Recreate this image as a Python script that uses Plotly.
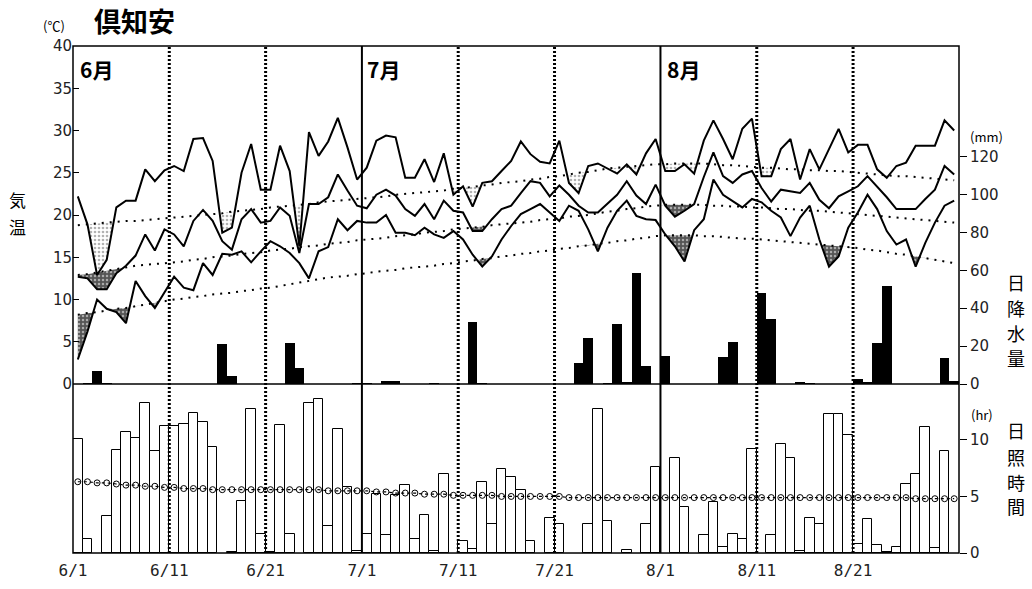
import plotly.graph_objects as go

# ---------------- data (6/1 .. 8/31, 92 days) ----------------
tick_pos = [0, 10, 20, 30, 40, 50, 61, 71, 81]
tick_labels = ["6/1", "6/11", "6/21", "7/1", "7/11", "7/21", "8/1", "8/11", "8/21"]
month_labels = ["6月", "7月", "8月"]

tmax = [22.2, 18.9, 12.9, 14.7, 20.9, 21.7, 21.7, 25.4, 24.0, 25.3,
        25.8, 25.2, 29.0, 29.1, 26.4, 17.9, 18.5, 25.0, 28.4, 23.0,
        23.0, 28.2, 25.2, 16.3, 29.8, 27.0, 28.7, 31.5, 28.0, 24.2,
        25.6, 28.8, 29.4, 29.2, 24.4, 24.4, 26.6, 23.9, 27.3, 22.4,
        23.4, 21.0, 23.8, 24.0, 25.2, 26.4, 28.7, 27.2, 26.3, 26.1,
        28.8, 23.8, 22.6, 25.8, 26.1, 25.5, 24.9, 26.0, 24.8, 27.3,
        29.0, 25.2, 25.2, 26.0, 24.9, 28.8, 31.2, 29.0, 26.6, 30.2,
        31.4, 24.6, 24.6, 27.8, 29.0, 24.2, 27.8, 25.4, 27.8, 30.2,
        27.4, 28.3, 28.3, 25.4, 24.4, 25.8, 26.2, 28.2, 28.2, 28.2,
        31.2, 30.0]
tmean = [12.7, 12.5, 11.2, 11.2, 13.1, 14.0, 15.2, 17.7, 15.8, 18.3,
         17.7, 16.3, 19.3, 20.6, 19.3, 16.9, 15.9, 19.5, 20.7, 19.1,
         19.3, 20.9, 19.9, 15.5, 21.3, 21.3, 22.1, 24.8, 22.9, 21.1,
         20.8, 22.4, 23.0, 22.3, 20.7, 19.9, 21.3, 19.5, 21.7, 20.5,
         20.3, 18.1, 18.1, 19.5, 20.7, 21.1, 22.6, 24.0, 23.8, 22.2,
         23.5, 22.4, 21.1, 20.3, 20.3, 21.3, 22.4, 24.0, 22.3, 21.3,
         23.6, 21.1, 19.8, 20.5, 21.3, 24.5, 27.4, 24.6, 23.8, 24.8,
         25.2, 23.2, 21.6, 23.0, 22.8, 22.6, 23.8, 21.8, 20.8, 22.2,
         22.8, 23.4, 24.6, 23.4, 22.1, 20.7, 20.7, 20.7, 21.9, 23.0,
         25.8, 24.8]
tmin = [2.9, 6.2, 10.0, 8.9, 8.5, 7.2, 12.2, 10.4, 9.0, 10.9,
        12.7, 11.4, 11.1, 14.3, 12.9, 15.4, 15.3, 15.7, 14.4, 15.7,
        16.9, 16.3, 15.5, 14.3, 12.5, 15.7, 16.2, 19.5, 18.2, 19.3,
        19.1, 19.1, 20.0, 17.9, 17.9, 17.6, 18.5, 17.7, 17.3, 18.1,
        17.1, 15.3, 13.9, 15.1, 17.1, 18.7, 20.1, 20.7, 21.3, 20.3,
        19.3, 21.1, 20.5, 18.3, 15.7, 18.5, 20.5, 21.7, 19.9, 19.5,
        19.4, 17.7, 16.3, 14.5, 18.2, 19.5, 24.2, 22.4, 21.7, 20.9,
        21.9, 21.5, 20.5, 19.7, 17.5, 19.7, 21.1, 17.1, 13.9, 15.1,
        18.5, 20.3, 22.4, 20.7, 18.1, 16.5, 17.1, 13.9, 16.7, 19.1,
        21.1, 21.7]
nmax = [18.8, 18.9, 19.0, 19.1, 19.2, 19.3, 19.3, 19.4, 19.5, 19.6, 19.7,
        19.8, 19.9, 20.0, 20.1, 20.2, 20.4, 20.5, 20.6, 20.7, 20.9,
        21.0, 21.1, 21.2, 21.3, 21.5, 21.6, 21.7, 21.8, 21.9, 22.0,
        22.1, 22.2, 22.4, 22.5, 22.6, 22.7, 22.8, 22.9, 23.1, 23.2,
        23.3, 23.5, 23.6, 23.8, 23.9, 24.0, 24.2, 24.3, 24.5, 24.6,
        24.8, 25.0, 25.1, 25.3, 25.5, 25.6, 25.7, 25.8, 25.9, 26.0,
        26.0, 26.1, 26.1, 26.1, 26.1, 26.0, 25.9, 25.9, 25.8, 25.7,
        25.6, 25.6, 25.5, 25.4, 25.4, 25.3, 25.3, 25.2, 25.2, 25.1,
        25.0, 24.9, 24.8, 24.7, 24.6, 24.6, 24.5, 24.4, 24.3, 24.2, 24.1]
nmean = [12.9, 13.0, 13.2, 13.4, 13.6, 13.8, 14.0, 14.1, 14.2, 14.3, 14.4,
         14.5, 14.7, 14.8, 15.0, 15.1, 15.2, 15.4, 15.5, 15.6, 15.8,
         15.9, 16.0, 16.2, 16.3, 16.4, 16.6, 16.7, 16.8, 17.0, 17.1,
         17.2, 17.3, 17.5, 17.6, 17.7, 17.9, 18.0, 18.1, 18.3, 18.4,
         18.5, 18.6, 18.8, 18.9, 19.0, 19.1, 19.2, 19.4, 19.5, 19.6,
         19.8, 19.9, 20.0, 20.2, 20.4, 20.5, 20.7, 20.8, 21.0, 21.1,
         21.2, 21.2, 21.2, 21.2, 21.2, 21.1, 21.1, 21.0, 21.0, 20.9,
         20.9, 20.8, 20.7, 20.7, 20.6, 20.5, 20.5, 20.4, 20.3, 20.2,
         20.1, 20.0, 19.9, 19.8, 19.7, 19.6, 19.5, 19.4, 19.3, 19.2, 19.1]
nmin = [8.2, 8.4, 8.5, 8.7, 8.9, 9.0, 9.2, 9.4, 9.6, 9.8, 10.0,
        10.1, 10.3, 10.4, 10.6, 10.7, 10.8, 11.0, 11.1, 11.3, 11.4,
        11.6, 11.8, 12.0, 12.2, 12.4, 12.6, 12.7, 12.8, 13.0, 13.1,
        13.3, 13.4, 13.5, 13.7, 13.8, 13.9, 14.0, 14.2, 14.3, 14.5,
        14.6, 14.8, 14.9, 15.1, 15.2, 15.4, 15.5, 15.7, 15.8, 16.0,
        16.1, 16.3, 16.4, 16.6, 16.7, 16.9, 17.0, 17.2, 17.3, 17.5,
        17.6, 17.6, 17.6, 17.6, 17.5, 17.5, 17.4, 17.3, 17.2, 17.2,
        17.1, 17.0, 16.9, 16.8, 16.7, 16.6, 16.5, 16.4, 16.3, 16.2,
        16.1, 15.9, 15.8, 15.6, 15.4, 15.3, 15.1, 14.9, 14.7, 14.5, 14.3]
precip = [0, 0.5, 7.0, 0.5, 0, 0, 0, 0, 0, 0,
          0, 0, 0, 0, 0, 20.9, 4.2, 0, 0, 0,
          0, 0, 21.5, 8.3, 0, 0, 0, 0, 0, 0.5,
          0.5, 0, 1.5, 1.5, 0, 0, 0, 0.5, 0, 0,
          0, 32.9, 0.3, 0, 0, 0, 0, 0, 0, 0,
          0, 0, 10.9, 24.5, 0, 0.3, 31.7, 1.0, 58.4, 9.7,
          0, 15.0, 0, 0, 0, 0, 0, 14.4, 22.3, 0,
          0, 48.2, 34.3, 0, 0, 1.0, 0.3, 0, 0, 0,
          0, 2.5, 1.2, 21.8, 51.7, 0, 0, 0, 0, 0,
          13.9, 1.8]
sun = [10.1, 1.2, 0, 3.3, 9.1, 10.7, 10.2, 13.3, 9.0, 11.2,
       11.2, 11.4, 12.4, 11.6, 9.4, 0, 0.1, 4.6, 12.7, 1.7,
       0.1, 11.3, 1.7, 0, 13.3, 13.6, 2.4, 11.0, 5.8, 0.2,
       1.7, 5.2, 1.6, 5.1, 6.0, 1.2, 3.4, 0.2, 7.0, 0,
       1.1, 0.35, 6.3, 2.6, 7.4, 6.7, 5.6, 1.1, 0, 3.1,
       2.6, 0, 0, 2.6, 12.7, 2.8, 0, 0.3, 0, 2.6,
       7.6, 0, 8.4, 4.1, 0, 1.6, 4.5, 0.5, 1.7, 1.2,
       9.2, 0, 1.6, 9.6, 8.4, 0.2, 3.1, 2.6, 12.3, 12.3,
       10.4, 0.8, 3.0, 0.7, 0.1, 0.5, 6.1, 7.0, 11.1, 0.4,
       9.0, 0]
nsun = [6.3, 6.3, 6.2, 6.2, 6.1, 6.0, 6.0, 5.9, 5.9, 5.8, 5.8,
        5.7, 5.7, 5.7, 5.6, 5.6, 5.6, 5.6, 5.6, 5.6, 5.6,
        5.6, 5.6, 5.6, 5.6, 5.6, 5.5, 5.5, 5.5, 5.5, 5.5,
        5.4, 5.4, 5.3, 5.3, 5.3, 5.2, 5.2, 5.2, 5.1, 5.1,
        5.1, 5.1, 5.1, 5.0, 5.0, 5.0, 5.0, 5.0, 5.0, 5.0,
        4.9, 4.9, 4.9, 4.9, 4.9, 4.9, 4.9, 4.9, 4.9, 4.9,
        4.9, 4.9, 4.9, 4.9, 4.9, 4.9, 4.9, 4.9, 4.9, 4.9,
        4.9, 4.9, 4.9, 4.9, 4.9, 4.9, 4.9, 4.9, 4.9, 4.9,
        4.9, 4.9, 4.9, 4.9, 4.9, 4.9, 4.8, 4.8, 4.8, 4.8, 4.8]

N = len(tmax)
xc = [i + 0.5 for i in range(N)]

# ---------------- layout geometry ----------------
W, H = 1032, 589
ML, MR, MT, MB = 73, 73, 46, 36
PW, PH = W - ML - MR, H - MT - MB
SPLIT = (553 - 384) / PH


def px(x):
    return (x - ML) / PW


def py(y):
    return (H - MB - y) / PH


def below_fill(act, nor):
    xs, up, lo = [], [], []
    for i in range(len(act)):
        x = i + 0.5
        xs.append(x)
        up.append(nor[i])
        lo.append(min(act[i], nor[i]))
        if i < len(act) - 1:
            d0 = act[i] - nor[i]
            d1 = act[i + 1] - nor[i + 1]
            if d0 * d1 < 0:
                t = d0 / (d0 - d1)
                yc = nor[i] + t * (nor[i + 1] - nor[i])
                xs.append(x + t)
                up.append(yc)
                lo.append(yc)
    return xs, up, lo


fig = go.Figure()

light = dict(shape=".", fgcolor="#666666", bgcolor="white", size=4, solidity=0.35)
dark = dict(shape=".", fgcolor="white", bgcolor="#555555", size=4, solidity=0.3)

for act, nor, pat in [(tmax, nmax, light), (tmean, nmean, dark), (tmin, nmin, dark)]:
    xs, up, lo = below_fill(act, nor)
    fig.add_trace(go.Scatter(x=xs, y=up, mode="lines", xaxis="x2", yaxis="y2",
                             line=dict(width=0, color="rgba(0,0,0,0)"),
                             showlegend=False, hoverinfo="skip"))
    fig.add_trace(go.Scatter(x=xs, y=lo, mode="lines", xaxis="x2", yaxis="y2",
                             line=dict(width=0, color="rgba(0,0,0,0)"),
                             fill="tonexty", fillcolor=pat["bgcolor"], fillpattern=pat,
                             showlegend=False, hoverinfo="skip"))

for nor in (nmax, nmean, nmin):
    fig.add_trace(go.Scatter(x=xc, y=nor, mode="lines", xaxis="x2", yaxis="y2",
                             line=dict(color="black", width=2, dash="2px,6px"),
                             showlegend=False, hoverinfo="skip"))

for act in (tmax, tmean, tmin):
    fig.add_trace(go.Scatter(x=xc, y=act, mode="lines", xaxis="x2", yaxis="y2",
                             line=dict(color="black", width=2),
                             showlegend=False, hoverinfo="skip"))

fig.add_trace(go.Bar(x=xc, y=[v if v > 0 else None for v in precip], width=1,
                     xaxis="x2", yaxis="y3", marker=dict(color="black", line=dict(width=0)),
                     showlegend=False, hoverinfo="skip"))

fig.add_trace(go.Bar(x=xc, y=[v if v > 0 else None for v in sun], width=1,
                     xaxis="x", yaxis="y",
                     marker=dict(color="white", line=dict(color="black", width=1)),
                     showlegend=False, hoverinfo="skip"))

fig.add_trace(go.Scatter(x=xc, y=nsun, mode="lines+markers", xaxis="x", yaxis="y",
                         line=dict(color="black", width=1.2, dash="dot"),
                         marker=dict(symbol="circle-open", size=6, color="black",
                                     line=dict(width=1)),
                         showlegend=False, hoverinfo="skip"))

tickfont = dict(family="DejaVu Sans", size=15, color="#222222")

fig.update_layout(
    width=W, height=H,
    margin=dict(l=ML, r=MR, t=MT, b=MB),
    paper_bgcolor="white", plot_bgcolor="white",
    bargap=0, barmode="overlay",
    showlegend=False,
    xaxis=dict(domain=[0, 1], anchor="y", range=[0, N], tickvals=tick_pos,
               ticktext=tick_labels, ticks="", showgrid=False, zeroline=False,
               showline=False, tickfont=dict(family="DejaVu Sans Mono", size=16, color="#222222"),
               ticklabelstandoff=6, automargin=False),
    xaxis2=dict(domain=[0, 1], anchor="y2", range=[0, N], showticklabels=False,
                ticks="", showgrid=False, zeroline=False, showline=False, matches="x"),
    yaxis=dict(domain=[0, SPLIT], anchor="x", side="right", range=[0, 169.3 / 11.33],
               tickvals=[0, 5, 10], ticks="outside", ticklen=7, tickcolor="black",
               showgrid=False, zeroline=False, showline=False, tickfont=tickfont,
               automargin=False),
    yaxis2=dict(domain=[SPLIT, 1], anchor="x2", side="left", range=[0, 40],
                tickvals=list(range(0, 41, 5)), ticks="inside", ticklen=6, tickcolor="black",
                showgrid=False, zeroline=False, showline=False, tickfont=tickfont,
                automargin=False),
    yaxis3=dict(overlaying="y2", anchor="x2", side="right", range=[0, 178.4],
                tickvals=list(range(0, 121, 20)), ticks="outside", ticklen=7, tickcolor="black",
                showgrid=False, zeroline=False, showline=False, tickfont=tickfont,
                automargin=False),
)

shapes = []
for d in (10, 20, 40, 50, 71, 81):
    shapes.append(dict(type="line", xref="x", yref="paper", x0=d, x1=d, y0=0, y1=1,
                       line=dict(color="black", width=3, dash="2px,2px")))
for d in (30, 61):
    shapes.append(dict(type="line", xref="x", yref="paper", x0=d, x1=d, y0=0, y1=1,
                       line=dict(color="black", width=2)))
shapes.append(dict(type="rect", xref="paper", yref="paper", x0=0, x1=1, y0=0, y1=1,
                   line=dict(color="black", width=1.5)))
shapes.append(dict(type="line", xref="paper", yref="paper", x0=0, x1=1, y0=SPLIT, y1=SPLIT,
                   line=dict(color="black", width=1.5)))
fig.update_layout(shapes=shapes)

jp = "Noto Sans CJK JP"
ann = []


def text(x, y, s, size, bold=False, color="black", xanchor="center", family=jp):
    ann.append(dict(x=px(x), y=py(y), xref="paper", yref="paper", text=s, showarrow=False,
                    xanchor=xanchor, yanchor="middle",
                    font=dict(family=family, size=size, color=color,
                              weight="bold" if bold else "normal")))


text(134, 21, "倶知安", 27, bold=True)
text(54, 25, "(℃)", 13, color="black")
for lab, xx in zip(month_labels, (78, 365, 665)):
    text(xx, 69, lab, 21, bold=True, xanchor="left")
for ch, yy in zip("気温", (199, 226)):
    text(17, yy, ch, 17, color="black")
text(986, 136, "(mm)", 13, color="black")
for ch, yy in zip("日降水量", (282, 308, 333, 358)):
    text(1016, yy, ch, 18, color="black")
text(982, 415, "(hr)", 13, color="black")
for ch, yy in zip("日照時間", (430, 457, 482, 506)):
    text(1016, yy, ch, 18, color="black")
fig.update_layout(annotations=ann)

fig.write_html("out.html", config={"displayModeBar": False},
               post_script="document.body.style.margin='0';document.body.style.overflow='hidden';")
